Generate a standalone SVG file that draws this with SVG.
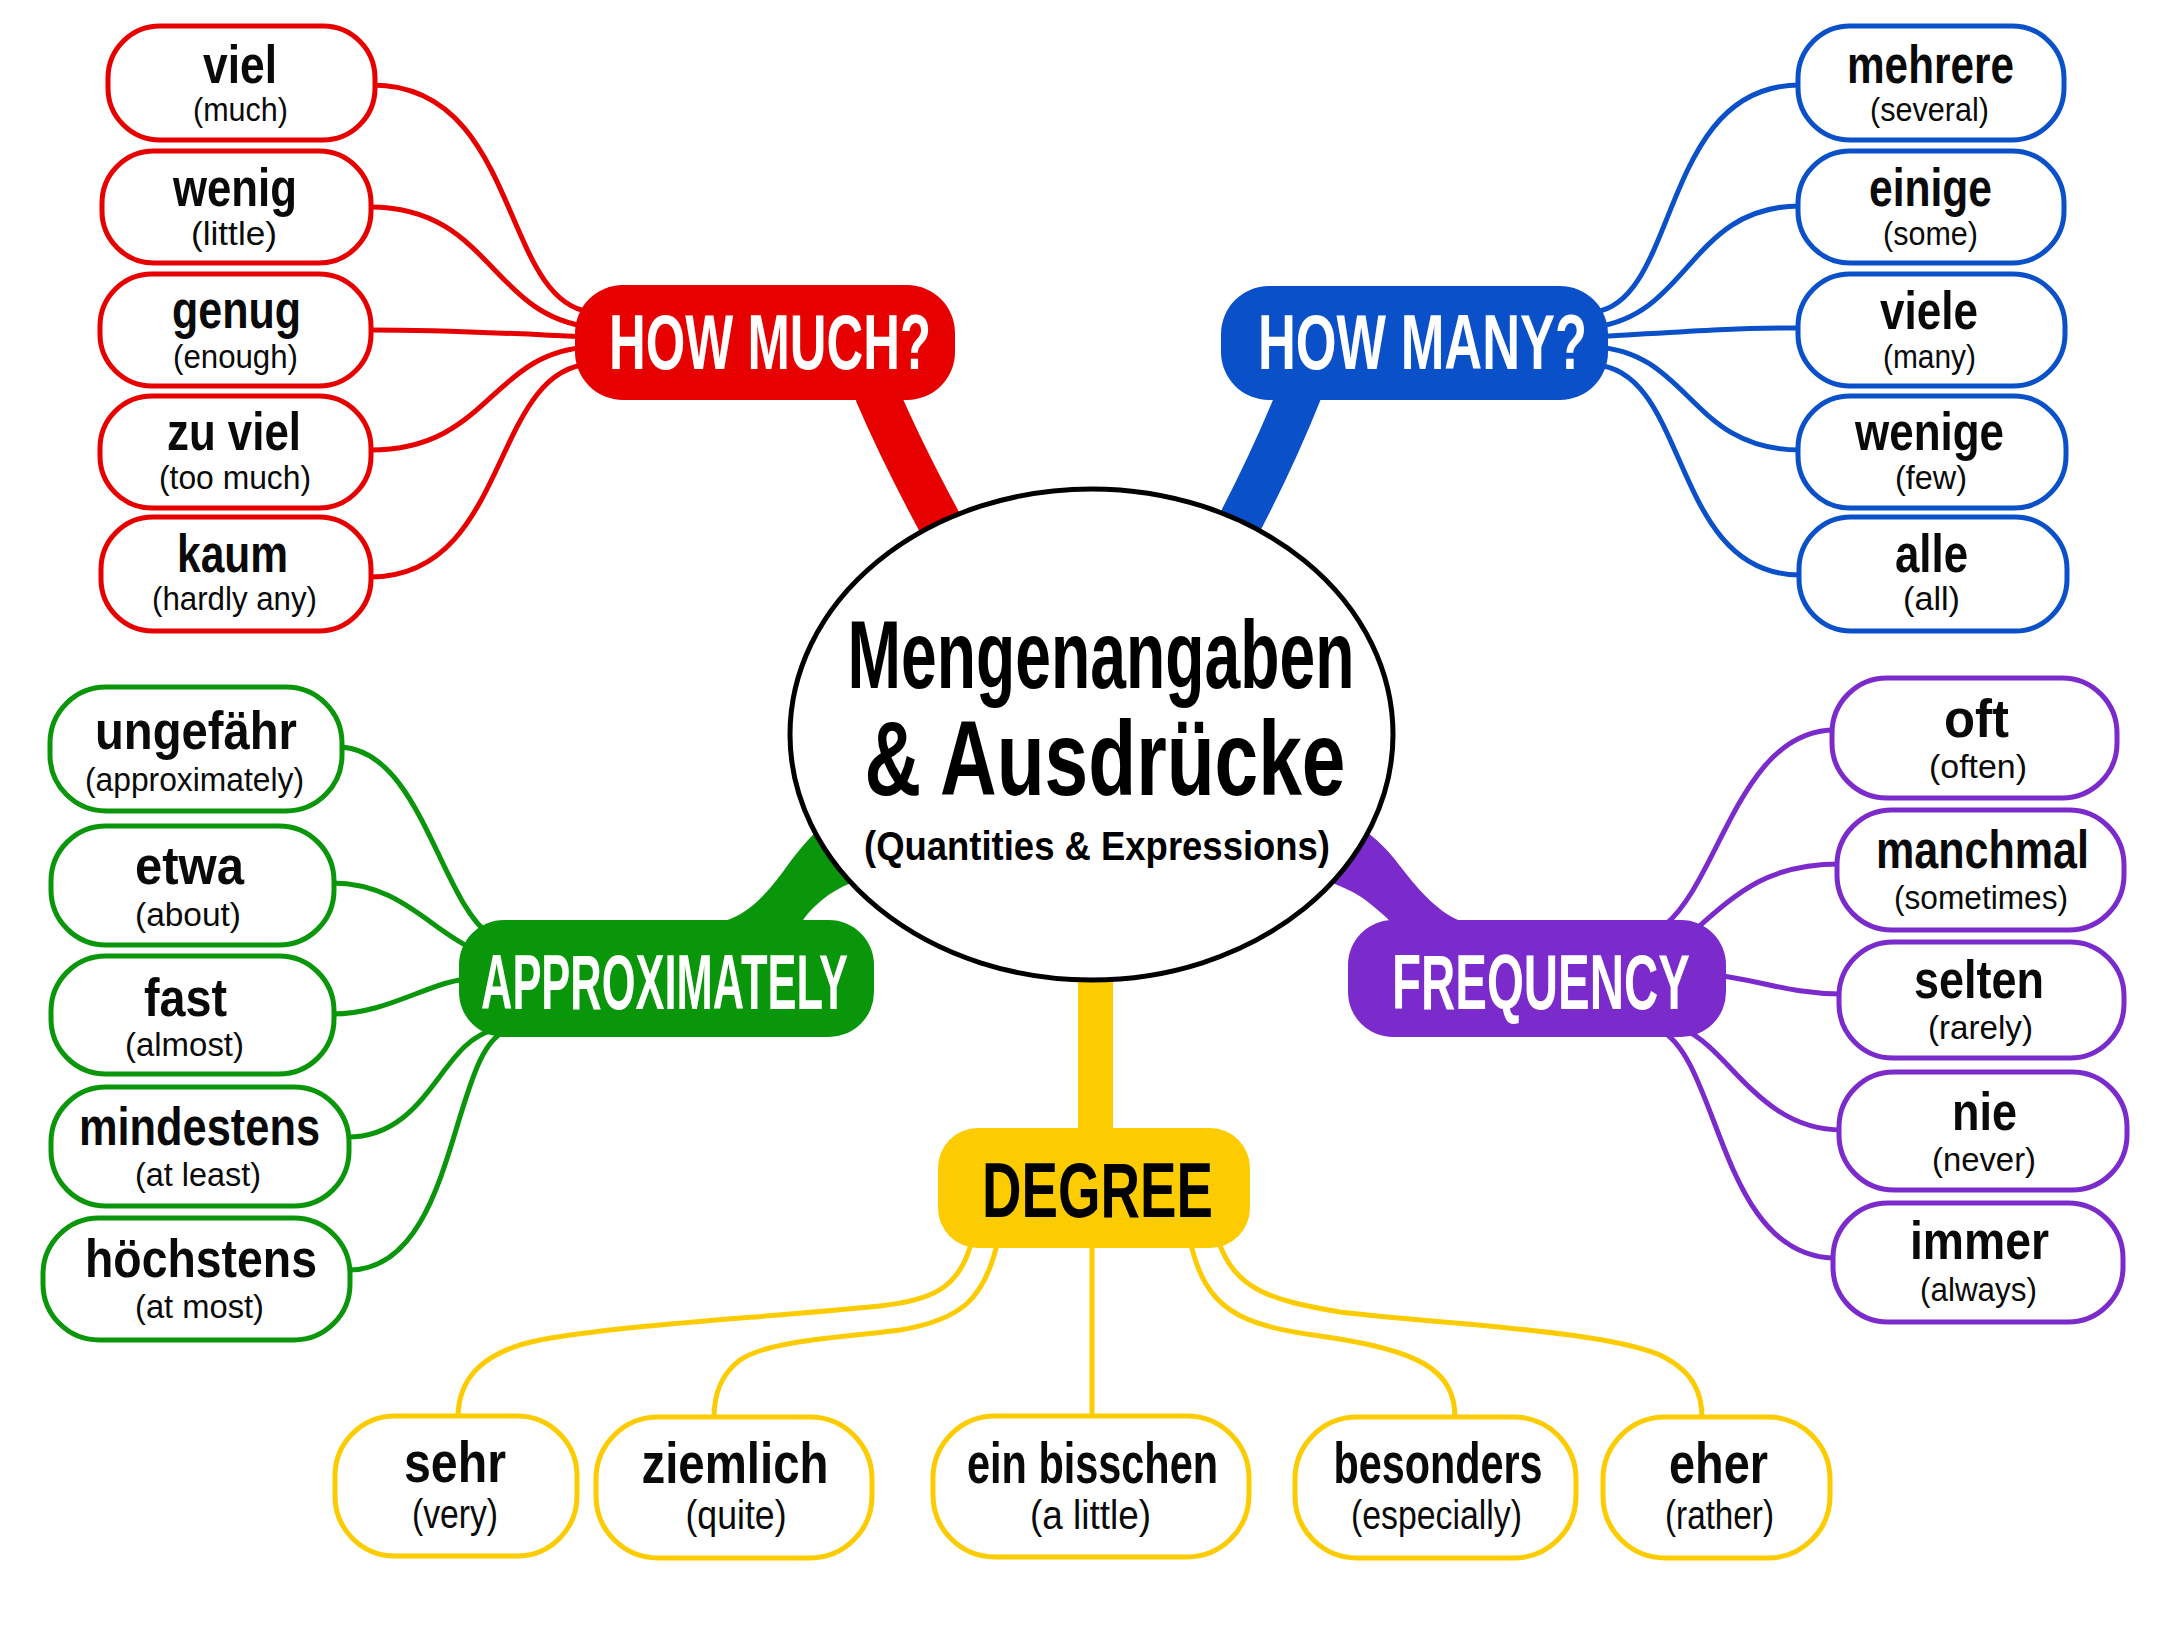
<svg xmlns="http://www.w3.org/2000/svg" width="2176" height="1632" viewBox="0 0 2176 1632">
<style>
.bg{fill:#ffffff}
.ln{fill:none;stroke-width:5;stroke-linecap:round}
.r{stroke:#e60000}.b{stroke:#0a50c8}.g{stroke:#0a960a}.p{stroke:#7b2bcc}.y{stroke:#fccc00}
.leaf{fill:#ffffff;stroke-width:5}
.main{font-family:"Liberation Sans",Arial,sans-serif;font-weight:700;font-size:53px;text-anchor:middle;fill:#0a0a0a}
.sub{font-family:"Liberation Sans",Arial,sans-serif;font-weight:400;font-size:34px;text-anchor:middle;fill:#0a0a0a}
.ymain{font-size:58px}
.ysub{font-size:41px}
.cat{font-family:"Liberation Sans",Arial,sans-serif;font-weight:700;font-size:77px;text-anchor:middle;fill:#ffffff}
.title{font-family:"Liberation Sans",Arial,sans-serif;font-weight:700;text-anchor:middle;fill:#000}
</style>
<rect class="bg" x="0" y="0" width="2176" height="1632"/>

<g id="connectors">
  <path d="M 876,392 C 893,432 915,478 952,545" fill="none" stroke="#e60000" stroke-width="44"/>
  <path d="M 1300,392 C 1284,432 1264,478 1228,545" fill="none" stroke="#0a50c8" stroke-width="44"/>
  <path d="M 720,922 C 748,916 768,893 790,862 C 805,842 820,825 840,815 L 880,870 C 860,880 840,885 822,900 C 810,910 804,918 802,922 Z" fill="#0a960a"/>
  <path d="M 1463,922 C 1440,914 1420,892 1400,866 C 1385,846 1370,832 1350,822 L 1310,875 C 1330,882 1350,888 1368,902 C 1380,912 1388,918 1390,922 Z" fill="#7b2bcc"/>
  <rect x="1078" y="965" width="35" height="170" fill="#fccc00"/>
  <path class="ln r" d="M 372,85 C 520,85 500,300 590,312"/>
  <path class="ln r" d="M 370,207 C 490,207 490,315 590,327"/>
  <path class="ln r" d="M 370,330 C 450,330 500,333 590,337"/>
  <path class="ln r" d="M 370,450 C 490,450 490,352 590,347"/>
  <path class="ln r" d="M 370,577 C 510,577 490,370 590,364"/>
  <path class="ln b" d="M 1800,85 C 1660,85 1680,300 1595,312"/>
  <path class="ln b" d="M 1800,206 C 1690,206 1690,315 1595,327"/>
  <path class="ln b" d="M 1800,328 C 1720,328 1680,332 1595,337"/>
  <path class="ln b" d="M 1800,450 C 1690,450 1690,352 1595,347"/>
  <path class="ln b" d="M 1800,575 C 1670,575 1690,370 1595,365"/>
  <path class="ln g" d="M 340,747 C 420,750 440,900 490,935"/>
  <path class="ln g" d="M 332,883 C 400,883 430,930 475,950"/>
  <path class="ln g" d="M 332,1014 C 390,1014 430,980 475,978"/>
  <path class="ln g" d="M 347,1137 C 430,1137 440,1040 495,1030"/>
  <path class="ln g" d="M 349,1270 C 460,1270 450,1040 510,1030"/>
  <path class="ln p" d="M 1835,730 C 1740,730 1720,880 1665,925"/>
  <path class="ln p" d="M 1840,864 C 1770,864 1740,890 1695,930"/>
  <path class="ln p" d="M 1842,994 C 1790,994 1760,980 1715,975"/>
  <path class="ln p" d="M 1842,1130 C 1760,1130 1730,1050 1685,1030"/>
  <path class="ln p" d="M 1836,1258 C 1720,1258 1720,1060 1660,1030"/>
  <path class="ln y" d="M 972,1240 C 960,1290 930,1300 880,1306 C 760,1318 620,1325 540,1340 C 480,1352 458,1380 458,1418"/>
  <path class="ln y" d="M 998,1240 C 985,1300 960,1320 900,1330 C 840,1338 770,1340 740,1360 C 720,1375 714,1395 714,1418"/>
  <path class="ln y" d="M 1092,1240 L 1092,1418"/>
  <path class="ln y" d="M 1190,1240 C 1205,1310 1240,1325 1320,1336 C 1420,1350 1455,1370 1455,1418"/>
  <path class="ln y" d="M 1218,1240 C 1235,1290 1270,1300 1340,1312 C 1450,1325 1600,1330 1660,1355 C 1695,1372 1702,1395 1702,1418"/>
</g>

<g id="center">
  <ellipse cx="1091.5" cy="734.5" rx="301.5" ry="245.5" fill="#ffffff" stroke="#000" stroke-width="5"/>
  <text class="title" x="1101" y="688" font-size="97" textLength="507" lengthAdjust="spacingAndGlyphs">Mengenangaben</text>
  <text class="title" x="1105" y="795" font-size="105" textLength="481" lengthAdjust="spacingAndGlyphs">&amp; Ausdrücke</text>
  <text class="title" x="1097" y="860" font-size="41" textLength="466" lengthAdjust="spacingAndGlyphs">(Quantities &amp; Expressions)</text>
</g>

<g id="cat-howmuch">
  <rect x="575" y="285" width="380" height="115" rx="48" fill="#e60000"/>
  <text class="cat" x="770" y="369" textLength="322" lengthAdjust="spacingAndGlyphs">HOW MUCH?</text>
</g>
<g id="cat-howmany">
  <rect x="1221" y="286" width="387" height="114" rx="48" fill="#0a50c8"/>
  <text class="cat" x="1422.5" y="369" textLength="329" lengthAdjust="spacingAndGlyphs">HOW MANY?</text>
</g>
<g id="cat-approx">
  <rect x="459" y="920" width="415" height="117" rx="45" fill="#0a960a"/>
  <text class="cat" x="664.5" y="1009" textLength="367" lengthAdjust="spacingAndGlyphs">APPROXIMATELY</text>
</g>
<g id="cat-frequency">
  <rect x="1348" y="920" width="378" height="117" rx="45" fill="#7b2bcc"/>
  <text class="cat" x="1541" y="1009" textLength="298" lengthAdjust="spacingAndGlyphs">FREQUENCY</text>
</g>
<g id="cat-degree">
  <rect x="938" y="1128" width="312" height="120" rx="40" fill="#fccc00"/>
  <text class="cat" x="1097.5" y="1217" style="fill:#000" textLength="231" lengthAdjust="spacingAndGlyphs">DEGREE</text>
</g>

<g id="leaf-viel"><rect class="leaf r" x="108" y="26" width="267" height="114" rx="52"/>
<text class="main" x="240" y="83" textLength="74" lengthAdjust="spacingAndGlyphs">viel</text>
<text class="sub" x="240.5" y="121" textLength="95" lengthAdjust="spacingAndGlyphs">(much)</text></g>
<g id="leaf-wenig"><rect class="leaf r" x="102" y="151" width="269" height="112" rx="52"/>
<text class="main" x="235" y="206" textLength="124" lengthAdjust="spacingAndGlyphs">wenig</text>
<text class="sub" x="234" y="245" textLength="86" lengthAdjust="spacingAndGlyphs">(little)</text></g>
<g id="leaf-genug"><rect class="leaf r" x="100" y="274" width="271" height="112" rx="52"/>
<text class="main" x="236.5" y="328" textLength="129" lengthAdjust="spacingAndGlyphs">genug</text>
<text class="sub" x="235.5" y="368" textLength="125" lengthAdjust="spacingAndGlyphs">(enough)</text></g>
<g id="leaf-zuviel"><rect class="leaf r" x="100" y="396" width="271" height="112" rx="52"/>
<text class="main" x="234" y="450" textLength="134" lengthAdjust="spacingAndGlyphs">zu viel</text>
<text class="sub" x="235" y="489" textLength="152" lengthAdjust="spacingAndGlyphs">(too much)</text></g>
<g id="leaf-kaum"><rect class="leaf r" x="101" y="517" width="270" height="114" rx="52"/>
<text class="main" x="232.5" y="572" textLength="111" lengthAdjust="spacingAndGlyphs">kaum</text>
<text class="sub" x="234.5" y="610" textLength="165" lengthAdjust="spacingAndGlyphs">(hardly any)</text></g>

<g id="leaf-mehrere"><rect class="leaf b" x="1798" y="26" width="266" height="114" rx="52"/>
<text class="main" x="1930.5" y="83" textLength="167" lengthAdjust="spacingAndGlyphs">mehrere</text>
<text class="sub" x="1929.5" y="121" textLength="119" lengthAdjust="spacingAndGlyphs">(several)</text></g>
<g id="leaf-einige"><rect class="leaf b" x="1798" y="151" width="266" height="112" rx="52"/>
<text class="main" x="1930.5" y="206" textLength="123" lengthAdjust="spacingAndGlyphs">einige</text>
<text class="sub" x="1930.5" y="245" textLength="95" lengthAdjust="spacingAndGlyphs">(some)</text></g>
<g id="leaf-viele"><rect class="leaf b" x="1798" y="274" width="267" height="112" rx="52"/>
<text class="main" x="1929" y="329" textLength="98" lengthAdjust="spacingAndGlyphs">viele</text>
<text class="sub" x="1929.5" y="368" textLength="93" lengthAdjust="spacingAndGlyphs">(many)</text></g>
<g id="leaf-wenige"><rect class="leaf b" x="1798" y="396" width="268" height="112" rx="52"/>
<text class="main" x="1929.5" y="450" textLength="149" lengthAdjust="spacingAndGlyphs">wenige</text>
<text class="sub" x="1931" y="489" textLength="72" lengthAdjust="spacingAndGlyphs">(few)</text></g>
<g id="leaf-alle"><rect class="leaf b" x="1799" y="517" width="268" height="114" rx="52"/>
<text class="main" x="1931.5" y="572" textLength="73" lengthAdjust="spacingAndGlyphs">alle</text>
<text class="sub" x="1931.5" y="610" textLength="57" lengthAdjust="spacingAndGlyphs">(all)</text></g>

<g id="leaf-ungefaehr"><rect class="leaf g" x="50" y="687" width="292" height="124" rx="56"/>
<text class="main" x="196" y="749" textLength="202" lengthAdjust="spacingAndGlyphs">ungefähr</text>
<text class="sub" x="194.5" y="791" textLength="219" lengthAdjust="spacingAndGlyphs">(approximately)</text></g>
<g id="leaf-etwa"><rect class="leaf g" x="51" y="826" width="283" height="119" rx="55"/>
<text class="main" x="189.5" y="884" textLength="109" lengthAdjust="spacingAndGlyphs">etwa</text>
<text class="sub" x="188" y="926" textLength="106" lengthAdjust="spacingAndGlyphs">(about)</text></g>
<g id="leaf-fast"><rect class="leaf g" x="51" y="956" width="283" height="118" rx="55"/>
<text class="main" x="185.5" y="1016" textLength="83" lengthAdjust="spacingAndGlyphs">fast</text>
<text class="sub" x="184.5" y="1056" textLength="119" lengthAdjust="spacingAndGlyphs">(almost)</text></g>
<g id="leaf-mindestens"><rect class="leaf g" x="51" y="1087" width="298" height="119" rx="55"/>
<text class="main" x="199.5" y="1145" textLength="241" lengthAdjust="spacingAndGlyphs">mindestens</text>
<text class="sub" x="198" y="1186" textLength="126" lengthAdjust="spacingAndGlyphs">(at least)</text></g>
<g id="leaf-hoechstens"><rect class="leaf g" x="43" y="1218" width="307" height="122" rx="56"/>
<text class="main" x="201" y="1277" textLength="232" lengthAdjust="spacingAndGlyphs">höchstens</text>
<text class="sub" x="199.5" y="1318" textLength="129" lengthAdjust="spacingAndGlyphs">(at most)</text></g>

<g id="leaf-oft"><rect class="leaf p" x="1832" y="678" width="285" height="120" rx="55"/>
<text class="main" x="1976.5" y="737" textLength="65" lengthAdjust="spacingAndGlyphs">oft</text>
<text class="sub" x="1978" y="778" textLength="98" lengthAdjust="spacingAndGlyphs">(often)</text></g>
<g id="leaf-manchmal"><rect class="leaf p" x="1837" y="810" width="287" height="120" rx="55"/>
<text class="main" x="1982.5" y="868" textLength="213" lengthAdjust="spacingAndGlyphs">manchmal</text>
<text class="sub" x="1981" y="909" textLength="174" lengthAdjust="spacingAndGlyphs">(sometimes)</text></g>
<g id="leaf-selten"><rect class="leaf p" x="1839" y="942" width="285" height="116" rx="54"/>
<text class="main" x="1979" y="998" textLength="130" lengthAdjust="spacingAndGlyphs">selten</text>
<text class="sub" x="1980.5" y="1039" textLength="105" lengthAdjust="spacingAndGlyphs">(rarely)</text></g>
<g id="leaf-nie"><rect class="leaf p" x="1839" y="1072" width="288" height="118" rx="55"/>
<text class="main" x="1984.5" y="1130" textLength="65" lengthAdjust="spacingAndGlyphs">nie</text>
<text class="sub" x="1984" y="1171" textLength="104" lengthAdjust="spacingAndGlyphs">(never)</text></g>
<g id="leaf-immer"><rect class="leaf p" x="1833" y="1203" width="290" height="119" rx="55"/>
<text class="main" x="1979.5" y="1259" textLength="139" lengthAdjust="spacingAndGlyphs">immer</text>
<text class="sub" x="1978.5" y="1301" textLength="117" lengthAdjust="spacingAndGlyphs">(always)</text></g>

<g id="leaf-sehr"><rect class="leaf y" x="335" y="1416" width="242" height="140" rx="60"/>
<text class="main ymain" x="455" y="1482" textLength="102" lengthAdjust="spacingAndGlyphs">sehr</text>
<text class="sub ysub" x="455" y="1528" textLength="86" lengthAdjust="spacingAndGlyphs">(very)</text></g>
<g id="leaf-ziemlich"><rect class="leaf y" x="596" y="1417" width="276" height="141" rx="62"/>
<text class="main ymain" x="735" y="1483" textLength="187" lengthAdjust="spacingAndGlyphs">ziemlich</text>
<text class="sub ysub" x="736" y="1529" textLength="101" lengthAdjust="spacingAndGlyphs">(quite)</text></g>
<g id="leaf-einbisschen"><rect class="leaf y" x="933" y="1416" width="316" height="141" rx="62"/>
<text class="main ymain" x="1092.5" y="1483" textLength="251" lengthAdjust="spacingAndGlyphs">ein bisschen</text>
<text class="sub ysub" x="1090.5" y="1529" textLength="121" lengthAdjust="spacingAndGlyphs">(a little)</text></g>
<g id="leaf-besonders"><rect class="leaf y" x="1295" y="1417" width="281" height="141" rx="62"/>
<text class="main ymain" x="1438" y="1483" textLength="209" lengthAdjust="spacingAndGlyphs">besonders</text>
<text class="sub ysub" x="1436.5" y="1529" textLength="171" lengthAdjust="spacingAndGlyphs">(especially)</text></g>
<g id="leaf-eher"><rect class="leaf y" x="1603" y="1417" width="227" height="141" rx="62"/>
<text class="main ymain" x="1718.5" y="1483" textLength="99" lengthAdjust="spacingAndGlyphs">eher</text>
<text class="sub ysub" x="1719.5" y="1529" textLength="109" lengthAdjust="spacingAndGlyphs">(rather)</text></g>
</svg>
